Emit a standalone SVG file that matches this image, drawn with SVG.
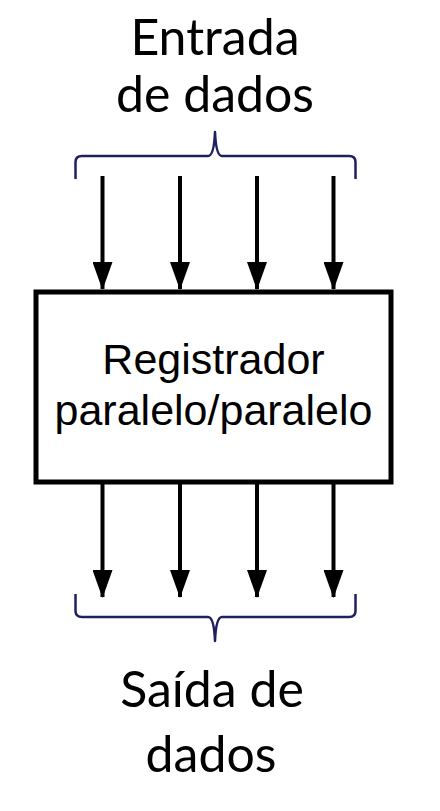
<svg xmlns="http://www.w3.org/2000/svg" width="440" height="811" viewBox="0 0 440 811">
<style>
.lbl{font-family:Lato,"Open Sans","Noto Sans",sans-serif;font-size:50px;fill:#000;text-anchor:middle}
.box{font-family:"Liberation Sans",Arial,sans-serif;font-size:43px;fill:#000;text-anchor:middle}
.wire{stroke:#000;stroke-width:4;fill:none}
.brace{stroke:#1f2060;stroke-width:2.5;fill:none;stroke-linejoin:round}
</style>
<defs>
<marker id="ah" markerUnits="userSpaceOnUse" markerWidth="28" markerHeight="20" refX="27" refY="10" orient="auto" viewBox="0 0 28 20">
<polygon points="0,0 28,10 0,20" fill="#000"/>
</marker>
</defs>
<g id="input-label">
<text class="lbl" x="215" y="55">Entrada</text>
<text class="lbl" x="215" y="112">de dados</text>
</g>
<g id="input-brace">
<path class="brace" d="M75.5,179 V162 Q75.5,156 82,156 H208 Q214,156 215,132 Q216,156 222,156 H349 Q355.5,156 355.5,162 V179"/>
</g>
<g id="register">
<rect x="36" y="292" width="355" height="190" fill="#fff" stroke="#000" stroke-width="5"/>
<text class="box" x="213.5" y="374">Registrador</text>
<text class="box" x="213.5" y="425">paralelo/paralelo</text>
</g>
<g id="connectors">
<line class="wire" x1="102.5" y1="176" x2="102.5" y2="289" marker-end="url(#ah)"/>
<line class="wire" x1="180" y1="176" x2="180" y2="289" marker-end="url(#ah)"/>
<line class="wire" x1="257" y1="176" x2="257" y2="289" marker-end="url(#ah)"/>
<line class="wire" x1="333.5" y1="176" x2="333.5" y2="289" marker-end="url(#ah)"/>
<line class="wire" x1="102.5" y1="484" x2="102.5" y2="597" marker-end="url(#ah)"/>
<line class="wire" x1="180" y1="484" x2="180" y2="597" marker-end="url(#ah)"/>
<line class="wire" x1="257" y1="484" x2="257" y2="597" marker-end="url(#ah)"/>
<line class="wire" x1="333.5" y1="484" x2="333.5" y2="597" marker-end="url(#ah)"/>
</g>
<g id="output-brace">
<path class="brace" d="M75.5,594 V611 Q75.5,617 82,617 H208 Q214,617 215,641 Q216,617 222,617 H349 Q355.5,617 355.5,611 V594"/>
</g>
<g id="output-label">
<text class="lbl" x="212" y="707">Saída de</text>
<text class="lbl" x="211" y="772">dados</text>
</g>
</svg>
